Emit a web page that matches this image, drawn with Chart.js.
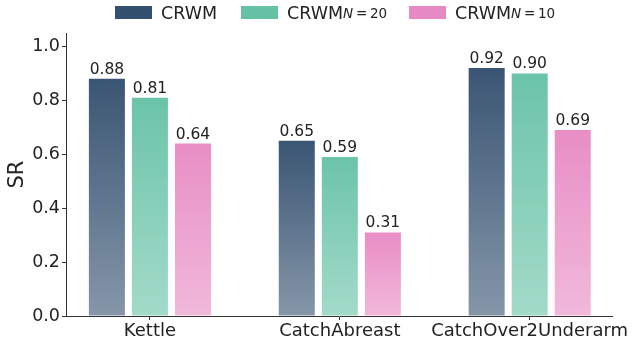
<!DOCTYPE html>
<html lang="en">
<head>
    <meta charset="UTF-8">
    <title>SR chart</title>
    <script src="https://cdn.jsdelivr.net/npm/chart.js"></script>
    <style>
      body { margin: 0; background: #fff; font-family: "DejaVu Sans", sans-serif; }
      #wrap { position: relative; width: 632px; height: 343px; }
      .item { position: absolute; top: 0; display: flex; align-items: center; height: 25px; font-size: 17.5px; color: #222; white-space: nowrap; }
      .box { width: 37px; height: 13px; margin-right: 9px; }
      sub { font-size: 13.5px; vertical-align: -4px; }
    </style>
</head>
<body>
  <div id="wrap">
    <canvas id="chart"></canvas>
    <div class="item" style="left:115px"><span class="box" style="background:#34506F"></span>CRWM</div>
    <div class="item" style="left:241px"><span class="box" style="background:#66C2A5"></span>CRWM<sub><i>N</i>&thinsp;=&thinsp;20</sub></div>
    <div class="item" style="left:409px"><span class="box" style="background:#E78AC3"></span>CRWM<sub><i>N</i>&thinsp;=&thinsp;10</sub></div>
  </div>

  <script>
    const categories = ['Kettle', 'CatchAbreast', 'CatchOver2Underarm'];
    const crwm = [0.88, 0.65, 0.92];
    const crwmN20 = [0.81, 0.59, 0.90];
    const crwmN10 = [0.64, 0.31, 0.69];
    const yTicks = [0.0, 0.2, 0.4, 0.6, 0.8, 1.0];

    function hexA(hex, a) {
      const n = parseInt(hex.slice(1), 16);
      return `rgba(${(n >> 16) & 255}, ${(n >> 8) & 255}, ${n & 255}, ${a})`;
    }

    // each bar fades from full colour at its top to lighter at the base
    function gradFill(hex) {
      return function (ctx) {
        const chart = ctx.chart;
        if (!chart.chartArea || !ctx.raw) return hexA(hex, 0.8);
        const ys = chart.scales.y;
        const top = ys.getPixelForValue(ctx.raw.y);
        const bottom = ys.getPixelForValue(0);
        const g = chart.ctx.createLinearGradient(0, top, 0, bottom);
        g.addColorStop(0, hexA(hex, 0.97));
        g.addColorStop(1, hexA(hex, 0.6));
        return g;
      };
    }

    const toPoints = arr => arr.map((v, i) => ({ x: i, y: v }));

    const valueLabels = {
      id: 'valueLabels',
      afterDatasetsDraw(chart) {
        const c = chart.ctx;
        c.save();
        c.font = '15.5px "DejaVu Sans"';
        c.fillStyle = '#222';
        c.textAlign = 'center';
        c.textBaseline = 'alphabetic';
        chart.data.datasets.forEach((ds, di) => {
          chart.getDatasetMeta(di).data.forEach((el, i) => {
            c.fillText(ds.data[i].y.toFixed(2), el.x, el.y - 5);
          });
        });
        c.restore();
      }
    };

    new Chart(document.getElementById('chart'), {
      type: 'bar',
      data: {
        datasets: [
          { label: 'CRWM', data: toPoints(crwm), backgroundColor: gradFill('#34506F') },
          { label: 'CRWM N=20', data: toPoints(crwmN20), backgroundColor: gradFill('#66C2A5') },
          { label: 'CRWM N=10', data: toPoints(crwmN10), backgroundColor: gradFill('#E78AC3') }
        ]
      },
      options: {
        responsive: true,
        maintainAspectRatio: false,
        animation: false,
        categoryPercentage: 0.68,
        barPercentage: 0.837,
        layout: { padding: { top: 33, right: 19, left: 0, bottom: 0 } },
        plugins: { legend: { display: false }, tooltip: { enabled: false } },
        scales: {
          x: {
            type: 'linear',
            offset: false,
            min: -0.442,
            max: 2.437,
            afterBuildTicks: s => { s.ticks = [0, 1, 2].map(v => ({ value: v })); },
            afterFit: s => { s.height = 27; },
            ticks: {
              callback: v => categories[v],
              autoSkip: false,
              maxRotation: 0,
              padding: 1,
              color: '#222',
              font: { family: 'DejaVu Sans', size: 18 }
            },
            grid: { offset: false, drawOnChartArea: false, drawTicks: true, tickLength: 4, color: '#333' },
            border: { color: '#333', width: 1 }
          },
          y: {
            min: 0,
            max: 1.05,
            afterBuildTicks: s => { s.ticks = yTicks.map(v => ({ value: v })); },
            afterFit: s => { s.width = 66; },
            ticks: {
              callback: v => v.toFixed(1),
              padding: 2,
              color: '#222',
              font: { family: 'DejaVu Sans', size: 17.5 }
            },
            title: {
              display: true,
              text: 'SR',
              color: '#222',
              padding: { top: 5, bottom: 0 },
              font: { family: 'DejaVu Sans', size: 21 }
            },
            grid: { drawOnChartArea: false, drawTicks: true, tickLength: 4, color: '#333' },
            border: { color: '#333', width: 1 }
          }
        }
      },
      plugins: [valueLabels]
    });
  </script>
</body>
</html>
